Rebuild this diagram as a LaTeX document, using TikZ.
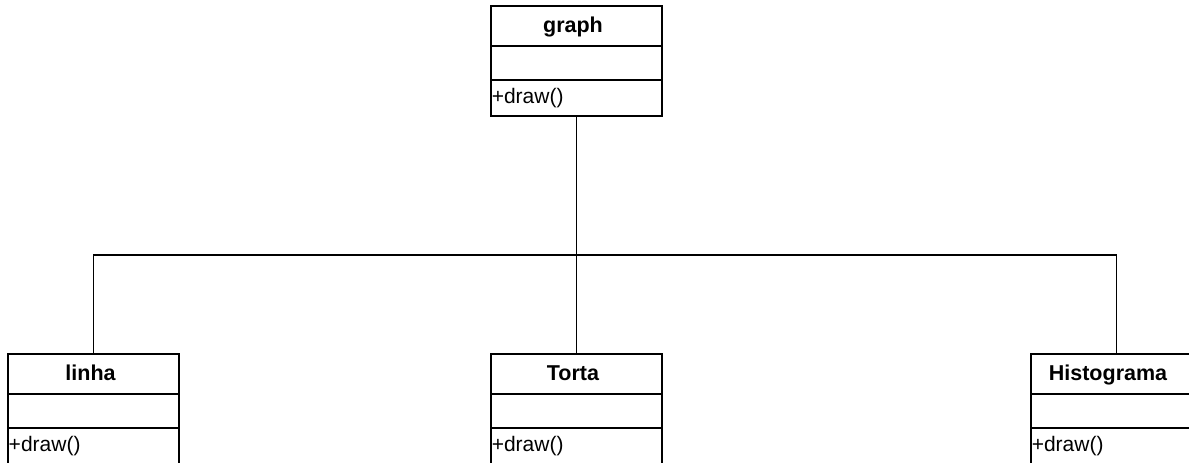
\documentclass[tikz,border=0pt]{standalone}
\usepackage{fontspec}
\setmainfont{Liberation Sans}
\tikzset{
  classbox/.style={draw=black, line width=1.9pt, fill=white, rectangle, minimum width=171pt, minimum height=110pt, inner sep=0pt},
  divider/.style={draw=black, line width=1.9pt},
  titletext/.style={font=\fontsize{21.5}{25}\selectfont\bfseries, anchor=base, inner sep=0pt},
  methodtext/.style={font=\fontsize{21}{25}\selectfont, anchor=base west, inner sep=0pt},
  link/.style={draw=black, line width=1.9pt}
}
\begin{document}
\begin{tikzpicture}[x=1pt,y=-1pt]
\useasboundingbox (0,0) rectangle (1189,463);
\clip (0,0) rectangle (1189,463);
% class boxes
\node[classbox] (graph) at (576.5,61) {};
\node[classbox] (linha) at (93.5,409) {};
\node[classbox] (torta) at (576.5,409) {};
\node[classbox] (hist) at (1116.5,409) {};
% dividers and texts
\foreach \n/\t/\dx in {graph/graph/-3.5, linha/linha/-3, torta/Torta/-3.5, hist/Histograma/-8.5}{
  \draw[divider] ([yshift=-41pt]\n.north west) -- ([yshift=-41pt]\n.north east);
  \draw[divider] ([yshift=-75pt]\n.north west) -- ([yshift=-75pt]\n.north east);
  \node[titletext] (\n-title) at ([xshift=\dx pt,yshift=-27pt]\n.north) {\t};
  \node[methodtext] (\n-method) at ([xshift=1.5pt,yshift=-98pt]\n.north west) {+draw()};
}
% connectors
\coordinate (bus) at (577,255);
\draw[link] (graph.south) -- (torta.north);
\draw[link] (linha.north) -- (linha.north |- bus) -- (hist.north |- bus) -- (hist.north);
\end{tikzpicture}
\end{document}
